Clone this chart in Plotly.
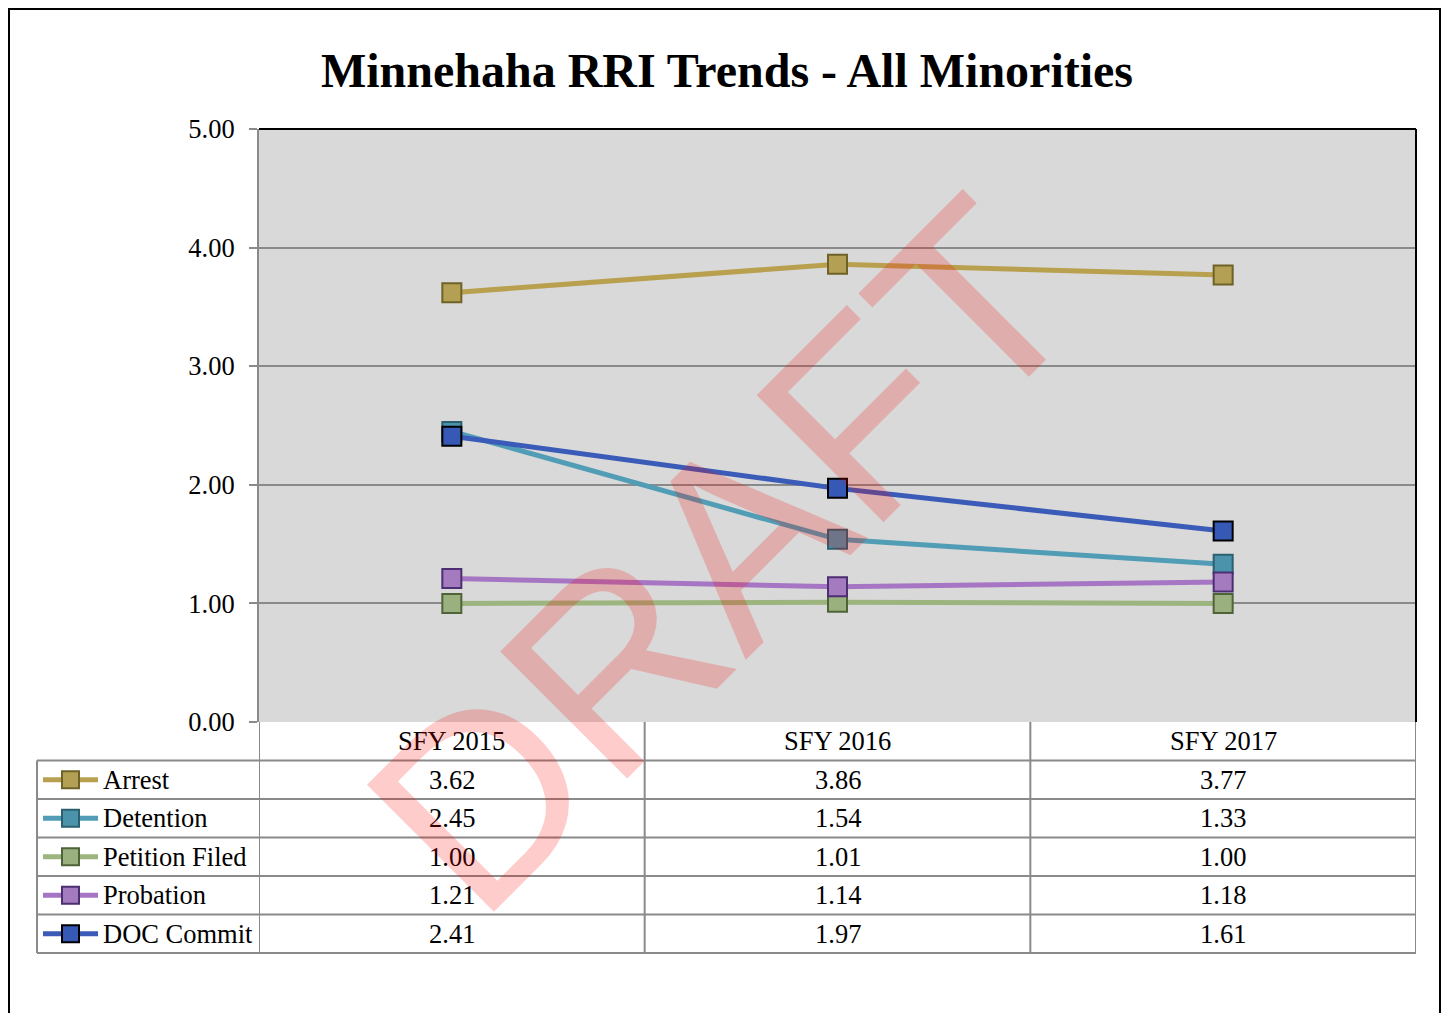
import plotly.graph_objects as go

# data
years = ["SFY 2015", "SFY 2016", "SFY 2017"]
arrest = [3.62, 3.86, 3.77]
detention = [2.45, 1.54, 1.33]
petition_filed = [1.00, 1.01, 1.00]
probation = [1.21, 1.14, 1.18]
doc_commit = [2.41, 1.97, 1.61]

series = [
    ("Arrest", arrest, "#B9A04E", "#B3A055", "#6F6226"),
    ("Detention", detention, "#519DB5", "#4B93AB", "#2C5F70"),
    ("Petition Filed", petition_filed, "#9CB47D", "#9AB07F", "#4F6339"),
    ("Probation", probation, "#A676C4", "#A47BBE", "#4C2F72"),
    ("DOC Commit", doc_commit, "#3A5BB8", "#3659B5", "#000000"),
]

# page body adds an 8px margin, so the figure is drawn smaller and coords shifted
OFF = 8
W, H = 1450 - OFF, 1021 - 2 * OFF
PL, PR, PT, PB = 259, 1416, 129, 722   # plot area in window pixels


def px(x):
    return (x - PL) / (PR - PL)


def py(y):
    return (PB - y) / (PB - PT)


fig = go.Figure()
for name, vals, lc, mc, mlc in series:
    fig.add_trace(go.Scatter(x=years, y=vals, name=name, mode="lines+markers",
                             line=dict(color=lc, width=5),
                             marker=dict(symbol="square", size=19, color=mc,
                                         line=dict(color=mlc, width=2))))

grid = "#8A8A8A"
serif = "Liberation Serif, Times New Roman, serif"
fsize = 26.5
shapes = []
annotations = []

# outer frame
shapes.append(dict(type="rect", xref="paper", yref="paper", x0=px(OFF + 1), x1=px(1440),
                   y0=py(1040), y1=py(OFF + 1), line=dict(color="black", width=2)))
# plot area top / right border
shapes.append(dict(type="line", xref="paper", yref="paper", x0=0, x1=1, y0=1, y1=1,
                   line=dict(color="black", width=2)))
shapes.append(dict(type="line", xref="paper", yref="paper", x0=1, x1=1, y0=0, y1=1,
                   line=dict(color="black", width=2)))

# data table
row_h = 38.5
rows_top = [PB + i * row_h for i in range(7)]
for y in rows_top[1:]:
    shapes.append(dict(type="line", xref="paper", yref="paper", x0=px(37), x1=1,
                       y0=py(y), y1=py(y), line=dict(color=grid, width=2)))
for xb in [-0.5, 0.5, 1.5, 2.5]:
    shapes.append(dict(type="line", xref="x", yref="paper", x0=xb, x1=xb,
                       y0=py(rows_top[0]), y1=py(rows_top[-1]), line=dict(color=grid, width=2)))
shapes.append(dict(type="line", xref="paper", yref="paper", x0=px(37), x1=px(37),
                   y0=py(rows_top[1]), y1=py(rows_top[-1]), line=dict(color=grid, width=2)))

# header row
for j, yr in enumerate(years):
    annotations.append(dict(x=j, xref="x", y=py(rows_top[0] + row_h / 2), yref="paper",
                            xanchor="center", yanchor="middle", text=yr, showarrow=False,
                            font=dict(family=serif, size=fsize, color="black")))

for i, (name, vals, lc, mc, mlc) in enumerate(series):
    yc = rows_top[i + 1] + row_h / 2
    shapes.append(dict(type="line", xref="paper", yref="paper", x0=px(43), x1=px(98),
                       y0=py(yc), y1=py(yc), line=dict(color=lc, width=5)))
    shapes.append(dict(type="rect", xref="paper", yref="paper", x0=px(62), x1=px(79),
                       y0=py(yc + 8.5), y1=py(yc - 8.5), fillcolor=mc,
                       line=dict(color=mlc, width=2)))
    annotations.append(dict(x=px(101), xref="paper", y=py(yc), yref="paper",
                            xanchor="left", yanchor="middle", text=name, showarrow=False,
                            font=dict(family=serif, size=fsize, color="black")))
    for j, v in enumerate(vals):
        annotations.append(dict(x=j, xref="x", y=py(yc), yref="paper",
                                xanchor="center", yanchor="middle", text=f"{v:.2f}",
                                showarrow=False, font=dict(family=serif, size=fsize, color="black")))

# watermark
annotations.append(dict(x=px(722), xref="paper", y=py(555), yref="paper", text="DRAFT",
                        xanchor="center", yanchor="middle", showarrow=False, textangle=-45,
                        font=dict(family="Liberation Sans, Arial, sans-serif", size=261,
                                  color="rgba(255,0,0,0.2)")))

fig.update_layout(
    width=W, height=H,
    margin=dict(l=PL - OFF, r=W - (PR - OFF), t=PT - OFF, b=H - (PB - OFF), autoexpand=False),
    paper_bgcolor="white", plot_bgcolor="#D9D9D9",
    showlegend=False,
    title=dict(text="<b>Minnehaha RRI Trends - All Minorities</b>", x=px(727), xref="paper",
               xanchor="center", y=1 - (70 - OFF) / H, yanchor="middle",
               font=dict(family=serif, size=48, color="black")),
    shapes=shapes, annotations=annotations,
)
fig.update_xaxes(type="category", range=[-0.5, 2.5], showticklabels=False, showgrid=False,
                 zeroline=False, showline=False, ticks="")
fig.update_yaxes(range=[0, 5], dtick=1, tickformat=".2f", showgrid=True, gridcolor=grid,
                 gridwidth=1.5, zeroline=False, showline=True, linecolor=grid, linewidth=2,
                 ticks="outside", ticklen=8, tickcolor=grid, tickwidth=1.5,
                 ticklabelstandoff=9,
                 tickfont=dict(family=serif, size=fsize, color="black"))

fig.write_html("out.html")
